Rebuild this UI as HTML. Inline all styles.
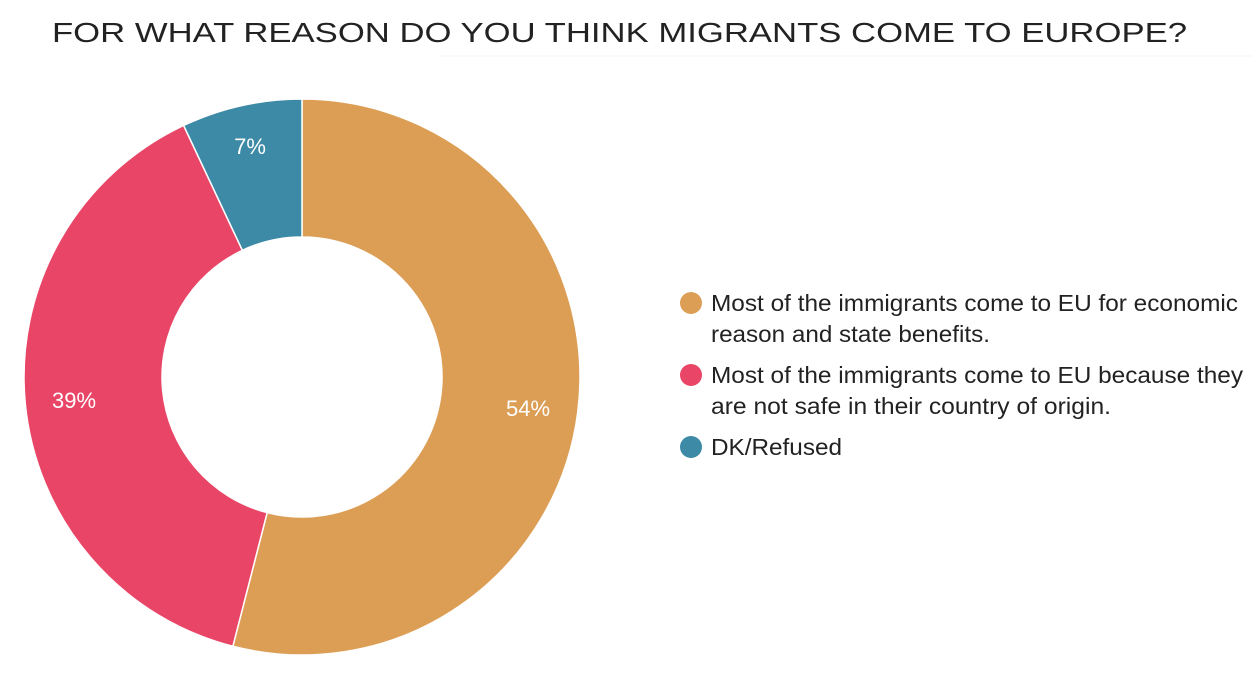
<!DOCTYPE html>
<html><head><meta charset="utf-8"><style>
html,body{margin:0;padding:0;background:#fff;}
svg{display:block;}
</style></head><body>
<svg width="1252" height="697" viewBox="0 0 1252 697" xmlns="http://www.w3.org/2000/svg">
<text x="52" y="42" font-family="Liberation Sans, sans-serif" font-size="28" fill="#222" textLength="1135" lengthAdjust="spacingAndGlyphs">FOR WHAT REASON DO YOU THINK MIGRANTS COME TO EUROPE?</text>
<line x1="440" y1="56" x2="1252" y2="56" stroke="#f4f4f4" stroke-width="1"/>
<g stroke="#fff" stroke-width="1.5">
<path d="M302,99 A278,278 0 1 1 232.86,646.27 L267.18,512.6 A140,140 0 1 0 302,237 Z" fill="#DC9E55"/>
<path d="M232.86,646.27 A278,278 0 0 1 183.63,125.47 L242.39,250.33 A140,140 0 0 0 267.18,512.6 Z" fill="#E94567"/>
<path d="M183.63,125.47 A278,278 0 0 1 302,99 L302,237 A140,140 0 0 0 242.39,250.33 Z" fill="#3C8AA6"/>
</g>
<g font-family="Liberation Sans, sans-serif" font-size="22" fill="#fff" text-anchor="middle">
<text x="528" y="416">54%</text>
<text x="74" y="408">39%</text>
<text x="250" y="154">7%</text>
</g>
<circle cx="691" cy="303" r="11" fill="#DC9E55"/>
<circle cx="691" cy="375" r="11" fill="#E94567"/>
<circle cx="691" cy="447" r="11" fill="#3C8AA6"/>
<g font-family="Liberation Sans, sans-serif" font-size="23" fill="#222" lengthAdjust="spacingAndGlyphs">
<text x="711" y="311" textLength="527" lengthAdjust="spacingAndGlyphs">Most of the immigrants come to EU for economic</text>
<text x="711" y="342" textLength="279" lengthAdjust="spacingAndGlyphs">reason and state benefits.</text>
<text x="711" y="383" textLength="532" lengthAdjust="spacingAndGlyphs">Most of the immigrants come to EU because they</text>
<text x="711" y="414" textLength="400" lengthAdjust="spacingAndGlyphs">are not safe in their country of origin.</text>
<text x="711" y="455" textLength="131" lengthAdjust="spacingAndGlyphs">DK/Refused</text>
</g>
</svg>
</body></html>
